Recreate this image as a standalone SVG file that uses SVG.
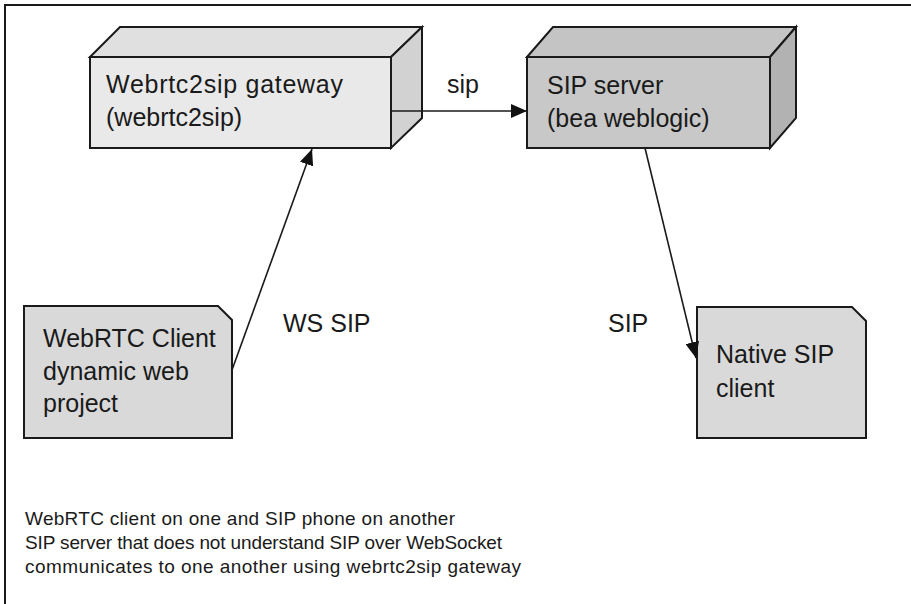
<svg xmlns="http://www.w3.org/2000/svg" width="911" height="604" viewBox="0 0 911 604">
<style>
  .lbl { font-family: "Liberation Sans", Arial, sans-serif; font-size: 25px; fill: #1a1a1a; }
  .note { font-family: "Liberation Sans", Arial, sans-serif; font-size: 19px; fill: #1a1a1a; }
  .edge { stroke: #1a1a1a; stroke-width: 2; fill: none; }
  .box { stroke: #1a1a1a; stroke-width: 2; stroke-linejoin: miter; }
  .conn { stroke: #1a1a1a; stroke-width: 1.6; fill: none; marker-end: url(#arrow); }
</style>
<defs>
  <marker id="arrow" markerUnits="userSpaceOnUse" markerWidth="16" markerHeight="14" refX="16" refY="7" orient="auto">
    <path d="M0,0 L16,7 L0,14 z" fill="#111"/>
  </marker>
</defs>
<rect x="0" y="0" width="911" height="604" fill="#ffffff"/>
<rect class="edge" x="5" y="5" width="920" height="620"/>

<g id="gateway">
  <polygon class="box" points="90,57 120,27 422,27 391,57" fill="#e0e0e0"/>
  <polygon class="box" points="391,57 422,27 422,118 391,148" fill="#d2d2d2"/>
  <rect class="box" x="90" y="57" width="301" height="91" fill="#e9e9e9"/>
  <text class="lbl" x="106" y="93" textLength="237">Webrtc2sip gateway</text>
  <text class="lbl" x="106" y="126">(webrtc2sip)</text>
</g>

<g id="sipserver">
  <polygon class="box" points="527,57 553,27 796,27 770,57" fill="#c4c4c4"/>
  <polygon class="box" points="770,57 796,27 796,118 770,148" fill="#b2b2b2"/>
  <rect class="box" x="527" y="57" width="243" height="91" fill="#c8c8c8"/>
  <text class="lbl" x="547" y="94">SIP server</text>
  <text class="lbl" x="547" y="127">(bea weblogic)</text>
</g>

<g id="webrtcclient">
  <polygon class="box" points="24,306 218,306 232,320 232,438 24,438" fill="#d9d9d9"/>
  <text class="lbl" x="43" y="347">WebRTC Client</text>
  <text class="lbl" x="43" y="380">dynamic web</text>
  <text class="lbl" x="43" y="412">project</text>
</g>

<g id="nativeclient">
  <polygon class="box" points="697,307 852,307 866,321 866,438 697,438" fill="#d9d9d9"/>
  <text class="lbl" x="716" y="363">Native SIP</text>
  <text class="lbl" x="716" y="397">client</text>
</g>

<g id="connectors">
  <line class="conn" x1="391" y1="111" x2="527" y2="111"/>
  <line class="conn" x1="232" y1="370" x2="312" y2="149"/>
  <line class="conn" x1="645" y1="148" x2="696" y2="358"/>
  <text class="lbl" x="447" y="93">sip</text>
  <text class="lbl" x="283" y="332">WS SIP</text>
  <text class="lbl" x="608" y="332">SIP</text>
</g>

<g id="caption">
  <text class="note" x="25" y="525" textLength="430">WebRTC client on one and SIP phone on another</text>
  <text class="note" x="25" y="549" textLength="477">SIP server that does not understand SIP over WebSocket</text>
  <text class="note" x="25" y="573" textLength="496">communicates to one another using webrtc2sip gateway</text>
</g>
</svg>
